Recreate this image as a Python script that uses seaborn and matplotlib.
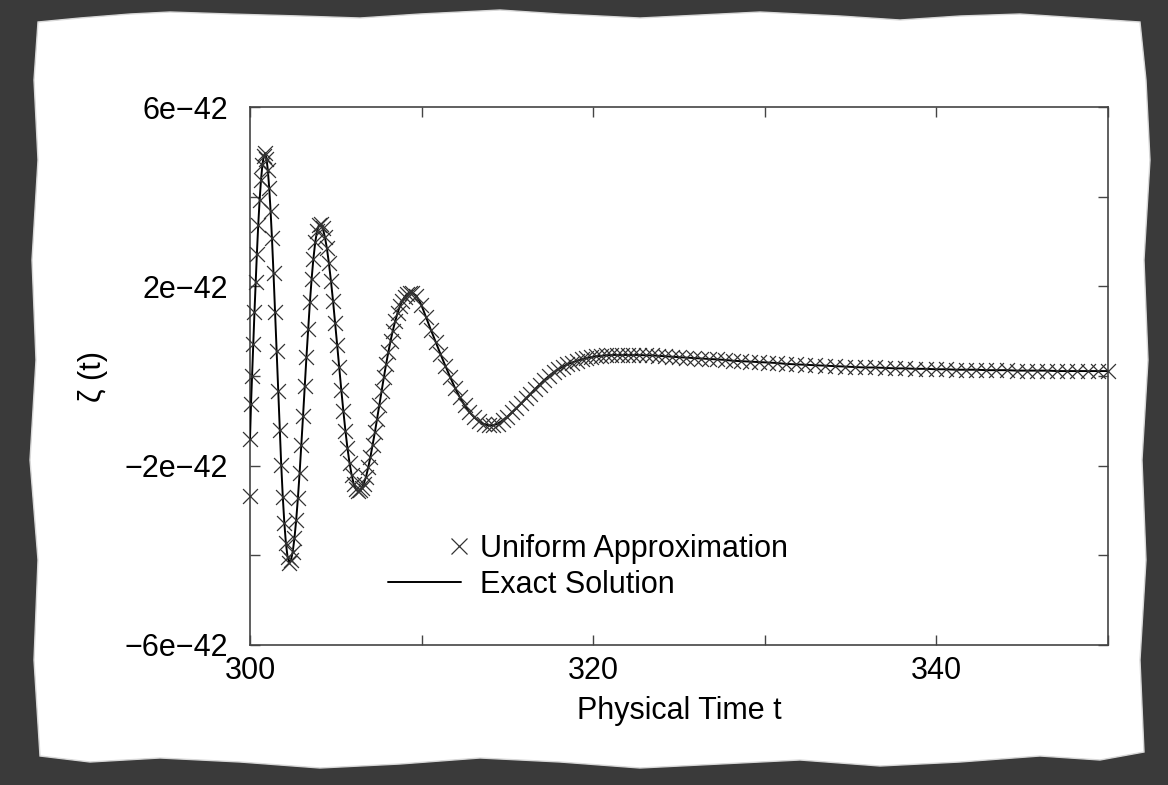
import matplotlib
matplotlib.use("Agg")
import matplotlib.pyplot as plt
import seaborn as sns
import pandas as pd
from matplotlib.lines import Line2D
from matplotlib.patches import Polygon
from matplotlib.legend_handler import HandlerBase

# ---------------- data (zeta in units of 1e-42) ----------------
time_t = [
    300.00, 300.06, 300.12, 300.19, 300.26, 300.33, 300.40, 300.48, 300.56, 300.64, 300.72, 300.80, 300.88,
    300.96, 301.04, 301.12, 301.20, 301.28, 301.37, 301.46, 301.55, 301.64, 301.73, 301.82, 301.91, 302.00,
    302.09, 302.19, 302.29,
    302.39, 302.49, 302.59, 302.69, 302.79, 302.89, 302.99, 303.09, 303.19, 303.29, 303.39, 303.49, 303.59,
    303.69, 303.80, 303.91, 304.02, 304.13,
    304.24, 304.36, 304.48, 304.60, 304.72, 304.84, 304.96, 305.08, 305.20, 305.32, 305.44, 305.56, 305.68,
    305.80, 305.92, 306.04, 306.16, 306.28, 306.39,
    306.50, 306.63, 306.76, 306.89, 307.02, 307.15, 307.28, 307.41, 307.54, 307.67, 307.80, 307.93, 308.06,
    308.19, 308.32, 308.46, 308.60, 308.74, 308.88, 309.02, 309.16, 309.30, 309.44,
    309.70, 309.98, 310.26, 310.54, 310.82, 311.10, 311.38, 311.66, 311.94, 312.22, 312.50, 312.78, 313.06,
    313.34, 313.62, 313.90,
    314.18, 314.45, 314.72, 314.99, 315.26, 315.53, 315.80, 316.07, 316.34, 316.61, 316.88, 317.15, 317.42,
    317.69, 317.96, 318.23, 318.50, 318.77, 319.04, 319.32, 319.60, 319.88, 320.17, 320.46, 320.76, 321.06,
    321.37, 321.68, 322.00,
    322.34, 322.69, 323.05, 323.42, 323.80, 324.19, 324.59, 325.00, 325.42, 325.85, 326.29, 326.74, 327.20,
    327.67, 328.15, 328.64, 329.14, 329.65, 330.17, 330.70, 331.24, 331.79, 332.35, 332.92, 333.50, 334.08,
    334.66, 335.24, 335.83, 336.42, 337.01, 337.60, 338.19, 338.78, 339.37, 339.96, 340.55, 341.14, 341.73,
    342.32, 342.91, 343.50, 344.09, 344.68, 345.27, 345.86, 346.45, 347.04, 347.63, 348.22, 348.81, 349.40,
    350.00,
]
zeta_exact = [
    -1.41, -0.62, 0.00, 0.72, 1.42, 2.09, 2.72, 3.37, 3.92, 4.37, 4.70, 4.90, 4.97,
    4.85, 4.59, 4.19, 3.68, 3.07, 2.29, 1.43, 0.55, -0.34, -1.20, -1.99, -2.69, -3.27,
    -3.72, -4.04, -4.16,
    -4.10, -3.92, -3.62, -3.22, -2.73, -2.17, -1.55, -0.90, -0.23, 0.43, 1.05, 1.64, 2.16,
    2.60, 2.98, 3.24, 3.37, 3.38,
    3.29, 3.11, 2.85, 2.51, 2.11, 1.67, 1.19, 0.69, 0.19, -0.31, -0.78, -1.22, -1.61,
    -1.94, -2.20, -2.40, -2.52, -2.57, -2.55,
    -2.50, -2.40, -2.25, -2.04, -1.80, -1.53, -1.25, -0.95, -0.64, -0.33, -0.03, 0.26, 0.53,
    0.78, 1.01, 1.22, 1.41, 1.56, 1.68, 1.77, 1.83, 1.86, 1.86,
    1.79, 1.59, 1.31, 1.03, 0.76, 0.49, 0.23, -0.02, -0.26, -0.47, -0.65, -0.80, -0.92,
    -1.01, -1.07, -1.10,
    -1.10, -1.06, -0.99, -0.91, -0.81, -0.71, -0.61, -0.50, -0.40, -0.29, -0.19, -0.09, 0.00,
    0.08, 0.15, 0.21, 0.26, 0.30, 0.34, 0.37, 0.40, 0.42, 0.44, 0.45, 0.46, 0.47,
    0.47, 0.47, 0.47,
    0.47, 0.47, 0.46, 0.46, 0.45, 0.44, 0.43, 0.42, 0.41, 0.40, 0.39, 0.38, 0.37,
    0.36, 0.34, 0.33, 0.32, 0.31, 0.30, 0.29, 0.27, 0.26, 0.25, 0.24, 0.23, 0.22,
    0.21, 0.20, 0.19, 0.19, 0.18, 0.17, 0.17, 0.16, 0.16, 0.15, 0.15, 0.14, 0.14,
    0.14, 0.13, 0.13, 0.13, 0.12, 0.12, 0.12, 0.12, 0.11, 0.11, 0.11, 0.11, 0.11,
    0.11,
]
# first sample of the uniform approximation deviates from the exact curve
approx_start_t = [300.00]
approx_start_y = [-2.68]

x_ticks = [300, 310, 320, 330, 340, 350]
x_tick_labels = ["300", "", "320", "", "340", ""]
y_ticks = [-6, -4, -2, 0, 2, 4, 6]
y_tick_labels = ["\u22126e\u221242", "", "\u22122e\u221242", "", "2e\u221242", "", "6e\u221242"]
legend_labels = ["Uniform Approximation", "Exact Solution"]
x_label = "Physical Time t"
y_label = "\u03b6 (t)"

approx_t = approx_start_t + time_t
approx_y = approx_start_y + zeta_exact
exact_df = pd.DataFrame({"t": time_t, "zeta": zeta_exact})
approx_df = pd.DataFrame({"t": approx_t, "zeta": approx_y})

# ---------------- style ----------------
sns.set_theme(style="ticks")
plt.rcParams["font.family"] = ["Liberation Sans", "DejaVu Sans"]
FS = 22

fig = plt.figure(figsize=(11.68, 7.85), dpi=100, facecolor="#3a3a3a")

# torn paper sheet (decoration), pixel coordinates
paper_px = [
    (38, 22), (80, 18), (130, 14), (170, 12), (230, 14), (300, 16), (360, 18), (420, 14), (500, 10),
    (560, 14), (640, 18), (700, 15), (760, 12), (840, 16), (900, 20), (960, 16), (1020, 14), (1080, 18),
    (1140, 22), (1146, 80), (1150, 160), (1144, 260), (1148, 360), (1142, 460), (1146, 560), (1140, 660),
    (1144, 752), (1100, 760), (1040, 756), (960, 762), (880, 766), (800, 760), (720, 764), (640, 768),
    (560, 762), (480, 758), (400, 764), (320, 768), (240, 762), (160, 758), (90, 762), (40, 756),
    (34, 660), (38, 560), (30, 460), (36, 360), (32, 260), (38, 160), (34, 80),
]
W, H = 1168.0, 785.0
paper = Polygon([(x / W, 1 - y / H) for x, y in paper_px], closed=True,
                transform=fig.transFigure, facecolor="white", edgecolor="#d8d8d8",
                linewidth=1.0, zorder=-10)
fig.patches.append(paper)

ax = fig.add_axes([250 / W, 1 - 645 / H, (1108 - 250) / W, (645 - 107) / H])
ax.set_zorder(5)
ax.set_facecolor("white")

sns.lineplot(data=exact_df, x="t", y="zeta", sort=False, estimator=None,
             color="black", linewidth=1.4, ax=ax, zorder=3)
sns.scatterplot(data=approx_df, x="t", y="zeta", marker="x", s=115,
                color="#333333", linewidth=0.9, ax=ax, clip_on=False, zorder=4)

ax.set_xlim(300, 350)
ax.set_ylim(-6, 6)
ax.set_xticks(x_ticks)
ax.set_xticklabels(x_tick_labels)
ax.set_yticks(y_ticks)
ax.set_yticklabels(y_tick_labels)
ax.tick_params(direction="in", length=7, width=1.0, color="#444444",
               top=True, right=True, labelsize=FS, labelcolor="black")
ax.tick_params(axis="x", pad=8)
ax.tick_params(axis="y", pad=16)
for sp in ax.spines.values():
    sp.set_visible(True)
    sp.set_color("#444444")
    sp.set_linewidth(1.2)

ax.set_xlabel(x_label, fontsize=FS, color="black")
ax.set_ylabel(y_label, fontsize=FS, color="black")
ax.xaxis.set_label_coords(0.5, -0.095)
ax.yaxis.set_label_coords(-0.165, 0.5)


class XAtRight(HandlerBase):
    def create_artists(self, legend, orig_handle, xdescent, ydescent, width, height, fontsize, trans):
        art = Line2D([width - xdescent - 0.08 * fontsize], [0.5 * height - ydescent],
                     linestyle="none", marker="x", markersize=11, markeredgewidth=0.9,
                     color="#333333", transform=trans)
        return [art]


h_approx = Line2D([], [], linestyle="none", marker="x", color="#333333")
h_exact = Line2D([], [], color="black", linewidth=1.4)
ax.legend(handles=[h_approx, h_exact], labels=legend_labels,
          handler_map={h_approx: XAtRight()},
          loc="upper left", bbox_to_anchor=(0.161, 0.207), frameon=False,
          fontsize=FS, handlelength=2.4, handletextpad=0.6, labelspacing=0.2,
          borderpad=0, borderaxespad=0, labelcolor="black")

fig.savefig("out.png", dpi=100, facecolor=fig.get_facecolor())
